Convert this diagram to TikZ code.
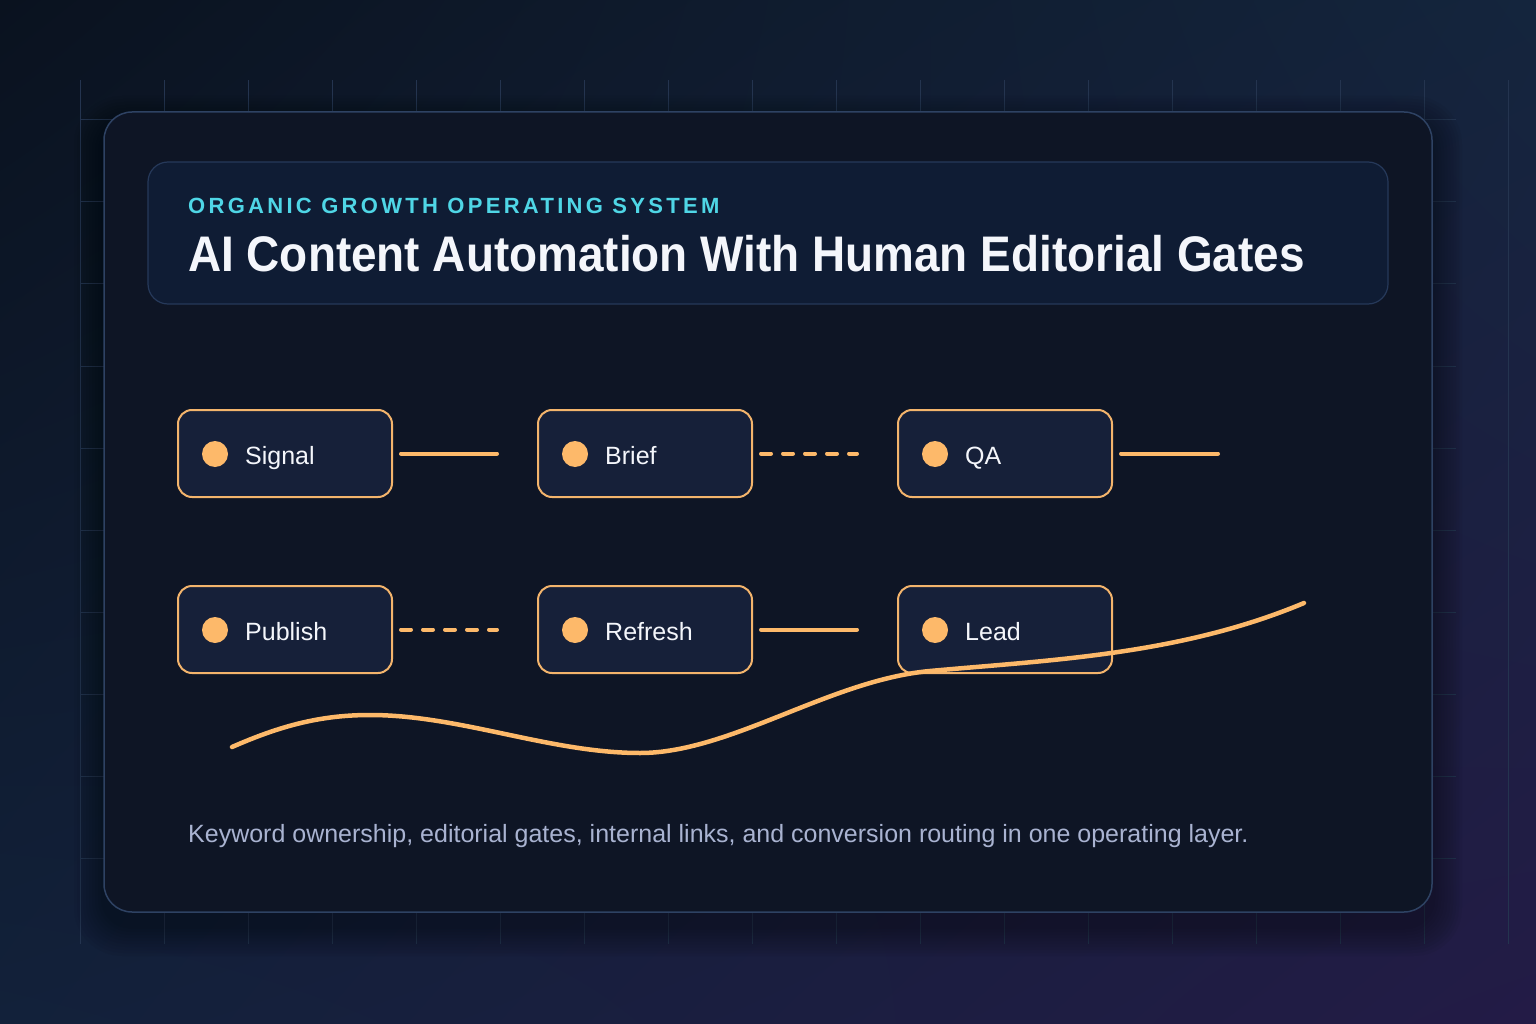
\documentclass[tikz,border=0pt]{standalone}
\usepackage{fontspec}
\setmainfont{Liberation Sans}
\newfontfamily\spacedfont[LetterSpace=15]{Liberation Sans}
\usetikzlibrary{calc,shadings}
\definecolor{bgTL}{HTML}{0A121F}
\definecolor{bgTR}{HTML}{14253D}
\definecolor{bgBL}{HTML}{12213A}
\definecolor{bgBR}{HTML}{231B46}
\definecolor{gridc}{HTML}{24344F}
\definecolor{cardfill}{HTML}{0E1525}
\definecolor{cardline}{HTML}{2E4263}
\definecolor{headfill}{HTML}{0F1C34}
\definecolor{headline}{HTML}{26395A}
\definecolor{nodefill}{HTML}{162039}
\definecolor{nodeline}{HTML}{F3B46C}
\definecolor{accent}{HTML}{FDB96A}
\definecolor{cyanc}{HTML}{4FD6E6}
\definecolor{titlec}{HTML}{F4F6FB}
\definecolor{notec}{HTML}{A9B3D1}
\tikzset{
  stepbox/.style={rectangle, rounded corners=14pt, minimum width=214pt, minimum height=87pt,
    fill=nodefill, draw=nodeline, line width=2pt, inner sep=0pt},
  dotmark/.style={circle, fill=accent, minimum size=26pt, inner sep=0pt},
  steplabel/.style={anchor=base west, inner sep=0pt, text=titlec, font=\fontsize{25}{30}\selectfont},
  link/.style={draw=accent, line width=4pt, line cap=round, shorten <=8pt, shorten >=40pt},
  dashlink/.style={link, dash pattern=on 10pt off 12pt},
}
\begin{document}
\begin{tikzpicture}[x=1pt,y=-1pt]
\useasboundingbox (0,0) rectangle (1536,1024);
% background
\shade[upper left=bgTL, upper right=bgTR, lower left=bgBL, lower right=bgBR] (0,0) rectangle (1536,1024);
% grid
\foreach \k in {0,...,17} \draw[gridc, line width=1pt] (80+84*\k,80) -- (80+84*\k,944);
\foreach \k in {0,...,9} \draw[gridc, line width=1pt] (80,120+82*\k) -- (1456,120+82*\k);
% card shadow
\foreach \i in {1,...,10}
  \fill[black, opacity=0.035, rounded corners=28pt+\i*2pt] (104-\i*3,112-\i*3+14) rectangle (1432+\i*3,912+\i*3+14);
% card
\draw[fill=cardfill, draw=cardline, line width=1.5pt, rounded corners=28pt] (104,112) rectangle (1432,912);
% header
\draw[fill=headfill, draw=headline, line width=1.2pt, rounded corners=20pt] (148,162) rectangle (1388,304);
\node[anchor=base west, inner sep=0pt, text=cyanc, font=\spacedfont\bfseries\fontsize{22}{26}\selectfont] (kicker) at (188,214) {ORGANIC GROWTH OPERATING SYSTEM};
\node[anchor=base west, inner sep=0pt, text=titlec, font=\bfseries\fontsize{50}{60}\selectfont] (title) at (188,272) {\scalebox{0.918}[1]{AI Content Automation With Human Editorial Gates}};
% nodes
\node[stepbox] (sig) at (285,453.5) {};
\node[stepbox] (brf) at (645,453.5) {};
\node[stepbox] (qa)  at (1005,453.5) {};
\node[stepbox] (pub) at (285,629.5) {};
\node[stepbox] (ref) at (645,629.5) {};
\node[stepbox] (lead) at (1005,629.5) {};
\foreach \n/\t in {sig/Signal, brf/Brief, qa/QA, pub/Publish, ref/Refresh, lead/Lead}{
  \node[dotmark] (\n-dot) at ($(\n.west)+(38,0.5)$) {};
  \node[steplabel] (\n-txt) at ($(\n.west)+(68,10.5)$) {\t};
}
% connectors
\coordinate (qaend) at (1258,453.5);
\draw[link] (sig) -- (brf);
\draw[dashlink] (brf) -- (qa);
\draw[link] (qa) -- (qaend);
\draw[dashlink] (pub) -- (ref);
\draw[link] (ref) -- (lead);
% curve
\draw[accent, line width=4.5pt, line cap=round, line join=round]
  (232,747) .. controls (280,726) and (320,715) .. (370,715)
  .. controls (460,715) and (550,753) .. (640,753)
  .. controls (730,753) and (830,680) .. (930,671)
  .. controls (1050,660) and (1180,655) .. (1304,603);
% footnote
\node[anchor=base west, inner sep=0pt, text=notec, font=\fontsize{25}{30}\selectfont] (note) at (188,842) {Keyword ownership, editorial gates, internal links, and conversion routing in one operating layer.};
\end{tikzpicture}
\end{document}
